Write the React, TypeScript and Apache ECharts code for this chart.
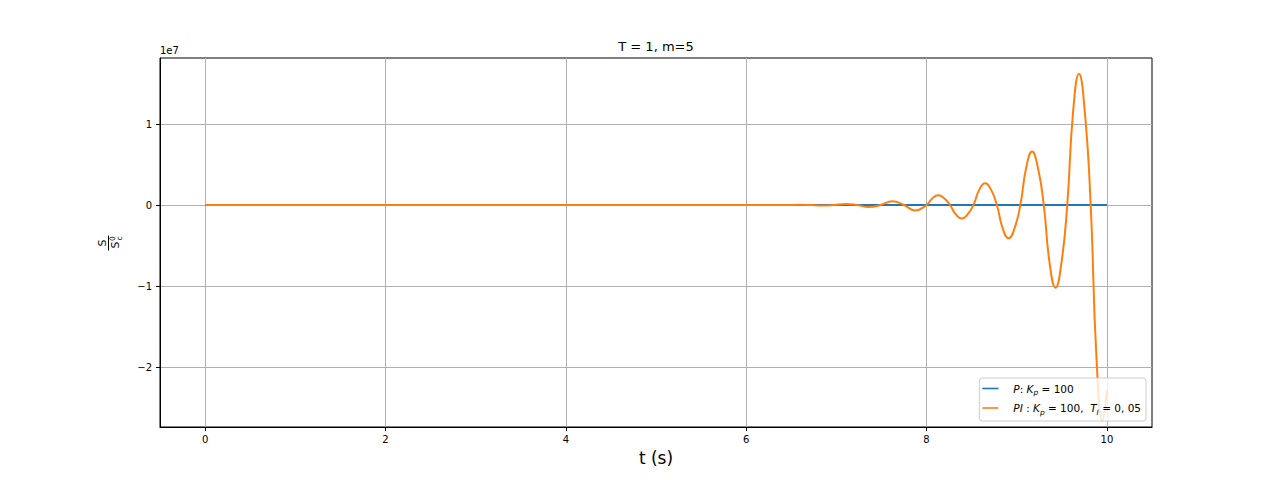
import { useEffect, useRef } from 'react';
import * as echarts from 'echarts';

// time axis (s) and responses, values in units of 1e7
const pTime = [0, 10];
const pValue = [0, 0];

const piTime = [
  0, 6.2, 6.32, 6.45, 6.58, 6.71, 6.84, 6.97, 7.1, 7.23, 7.36, 7.49, 7.62, 7.75, 7.87,
  8.0, 8.065, 8.13, 8.195, 8.26, 8.325, 8.39, 8.455, 8.52, 8.585, 8.65, 8.715, 8.78,
  8.845, 8.91, 8.975, 9.04, 9.105, 9.17, 9.235, 9.3, 9.365, 9.43, 9.495, 9.56,
  9.625, 9.69, 9.755, 9.82, 9.885, 9.95, 10.0,
];
const piValue = [
  0, 0, -0.001, 0, 0.003, 0, -0.006, 0, 0.013, 0, -0.025, 0, 0.046, 0, -0.066,
  0, 0.085, 0.12, 0.085, 0, -0.115, -0.165, -0.115, 0, 0.19, 0.27, 0.19, 0,
  -0.29, -0.41, -0.29, 0, 0.46, 0.66, 0.46, 0, -0.72, -1.02, -0.72, 0,
  1.15, 1.62, 1.15, 0, -1.9, -2.66, -2.29,
];

const xTicks = [0, 2, 4, 6, 8, 10];
const yTicks = [-2, -1, 0, 1];

const FONT = 'DejaVu Sans';

export default function App() {
  const chartRef = useRef<HTMLDivElement>(null);

  useEffect(() => {
    if (!chartRef.current) return;
    const chart = echarts.init(chartRef.current, null, { renderer: 'svg' });

    const fmt = (v: number) => String(v).replace('-', '\u2212');

    const option: echarts.EChartsOption = {
      animation: false,
      backgroundColor: '#fff',
      textStyle: { fontFamily: FONT },
      grid: {
        left: 160,
        right: 128,
        top: 58,
        bottom: 53,
        show: true,
        borderColor: '#000',
        borderWidth: 1,
        backgroundColor: 'transparent',
      },
      legend: {
        orient: 'vertical',
        right: 134,
        top: 378,
        itemWidth: 16,
        itemHeight: 10,
        itemGap: 6,
        padding: [5, 5, 5, 3],
        backgroundColor: 'rgba(255,255,255,0.8)',
        borderColor: '#cccccc',
        borderWidth: 1,
        borderRadius: 3,
        icon: 'path://M0,0L20,0L20,2L0,2Z',
        formatter: (name: string) =>
          name === 'P'
            ? '{g|}{i|P}{n|: }{i|K}{s|p}{n| = 100}'
            : '{g|}{i|PI}{n| : }{i|K}{s|p}{n| = 100,  }{i|T}{s|I}{n| = 0, 05}',
        textStyle: {
          fontFamily: FONT,
          fontSize: 10.5,
          color: '#000',
          rich: {
            g: { width: 10 },
            i: { fontFamily: FONT, fontSize: 10.5, fontStyle: 'italic', lineHeight: 16 },
            n: { fontFamily: FONT, fontSize: 10.5, lineHeight: 16 },
            s: { fontFamily: FONT, fontSize: 7.5, fontStyle: 'italic', verticalAlign: 'bottom', lineHeight: 12 },
          },
        },
        data: ['P', 'PI'],
      },
      xAxis: {
        type: 'value',
        min: -0.5,
        max: 10.5,
        name: 't (s)',
        nameLocation: 'middle',
        nameGap: 22,
        nameTextStyle: { fontFamily: FONT, fontSize: 17, color: '#000', verticalAlign: 'top' },
        axisLine: { onZero: false, lineStyle: { color: '#000', width: 1 } },
        axisTick: { show: true, length: 4, customValues: xTicks, lineStyle: { color: '#000' } },
        axisLabel: { customValues: xTicks, color: '#000', fontSize: 10, margin: 7, fontFamily: FONT },
        splitLine: { show: true, lineStyle: { color: '#b0b0b0', width: 1 } },
      },
      yAxis: {
        type: 'value',
        min: -2.74,
        max: 1.815,
        axisLine: { show: true, onZero: false, lineStyle: { color: '#000', width: 1 } },
        axisTick: { show: true, length: 4, customValues: yTicks, lineStyle: { color: '#000' } },
        axisLabel: {
          customValues: yTicks,
          color: '#000',
          fontSize: 10,
          margin: 8,
          fontFamily: FONT,
          formatter: (v: number) => fmt(v),
        },
        splitLine: { show: true, lineStyle: { color: '#b0b0b0', width: 1 } },
      },
      graphic: [
        {
          type: 'text',
          x: 656,
          y: 46,
          style: {
            text: 'T = 1, m=5',
            fontFamily: FONT,
            fontSize: 13,
            fill: '#000',
            textAlign: 'center',
            textVerticalAlign: 'middle',
          },
        },
        {
          type: 'text',
          x: 160,
          y: 50,
          style: {
            text: '1e7',
            fontFamily: FONT,
            fontSize: 10,
            fill: '#000',
            textAlign: 'left',
            textVerticalAlign: 'middle',
          },
        },
        {
          // y-axis label: fraction S / S_c^0, rotated like a matplotlib ylabel
          type: 'group',
          x: 108.5,
          y: 243,
          rotation: Math.PI / 2,
          children: [
            {
              type: 'text',
              x: 0,
              y: -6.5,
              style: { text: 'S', fontFamily: FONT, fontSize: 11, fill: '#000', textAlign: 'center', textVerticalAlign: 'middle' },
            },
            {
              type: 'line',
              shape: { x1: -7.5, y1: 0, x2: 7.5, y2: 0 },
              style: { stroke: '#000', lineWidth: 1 },
            },
            {
              type: 'text',
              x: -2,
              y: 6.5,
              style: { text: 'S', fontFamily: FONT, fontSize: 11, fill: '#000', textAlign: 'center', textVerticalAlign: 'middle' },
            },
            {
              type: 'text',
              x: 4.5,
              y: 3.5,
              style: { text: '0', fontFamily: FONT, fontSize: 7.5, fill: '#000', textAlign: 'center', textVerticalAlign: 'middle' },
            },
            {
              type: 'text',
              x: 4.5,
              y: 10.5,
              style: { text: 'c', fontFamily: FONT, fontSize: 7.5, fill: '#000', textAlign: 'center', textVerticalAlign: 'middle' },
            },
          ],
        },
      ],
      series: [
        {
          name: 'P',
          type: 'line',
          showSymbol: false,
          symbol: 'none',
          color: '#1f77b4',
          lineStyle: { color: '#1f77b4', width: 2 },
          data: pTime.map((t, i) => [t, pValue[i]]),
        },
        {
          name: 'PI',
          type: 'line',
          showSymbol: false,
          symbol: 'none',
          smooth: 0.5,
          color: '#ff7f0e',
          lineStyle: { color: '#ff7f0e', width: 2 },
          data: piTime.map((t, i) => [t, piValue[i]]),
        },
      ],
    };

    chart.setOption(option);

    return () => {
      chart.dispose();
    };
  }, []);

  return (
    <div
      ref={chartRef}
      style={{ position: 'absolute', left: 0, top: 0, width: 1280, height: 480 }}
    />
  );
}
